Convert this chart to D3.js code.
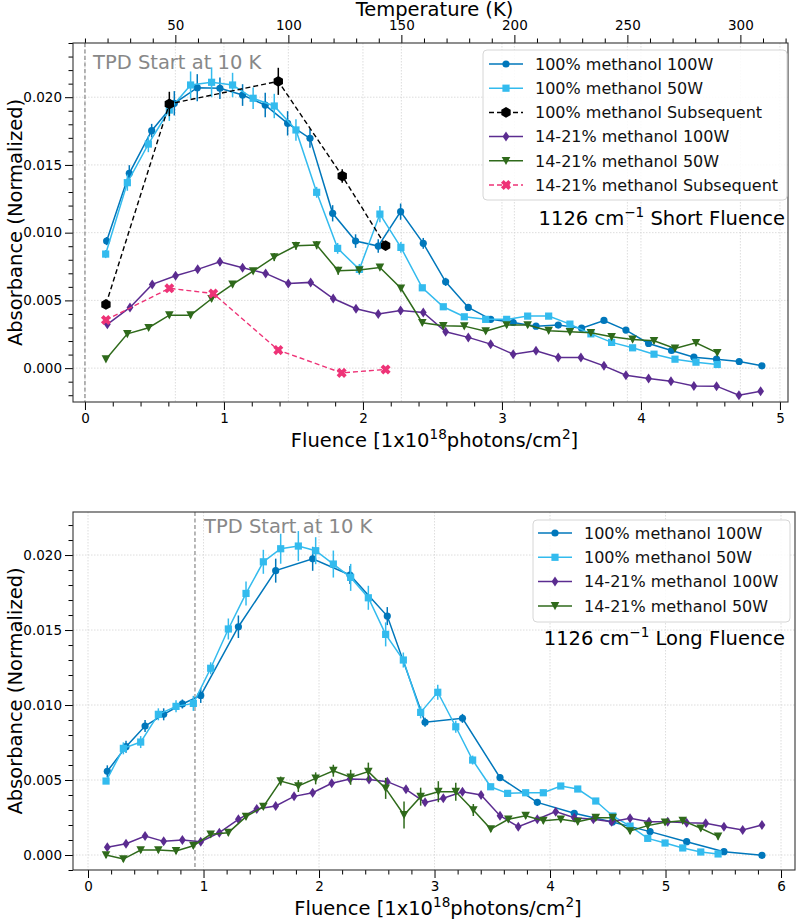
<!DOCTYPE html>
<html><head><meta charset="utf-8">
<script src="https://cdnjs.cloudflare.com/ajax/libs/d3/7.8.5/d3.min.js"></script>
<style>body{margin:0;background:#fff}svg{display:block}</style>
</head><body><svg id="c" width="796" height="920"></svg>
<script>
// ---------------- DATA ----------------
// Short fluence panel
const sx100 = [0.156,0.319,0.480,0.643,0.808,0.971,1.134,1.297,1.458,1.619,1.782,1.947,2.110,2.271,2.434,2.595,2.758,2.919,3.081,3.245,3.405,3.573,3.734,3.892,4.055,4.220,4.381,4.544,4.707,4.870];
const sy100 = [0.00938,0.01438,0.01753,0.01955,0.0207,0.02066,0.02016,0.01942,0.01807,0.01696,0.01143,0.00938,0.00901,0.01155,0.00921,0.00637,0.00448,0.0036,0.00337,0.0031,0.00318,0.00295,0.00352,0.00281,0.00182,0.0013,0.00081,0.00066,0.00049,0.00017];
const se100 = [0.0003,0.0006,0.0005,0.0009,0.001,0.0008,0.0008,0.0009,0.0009,0.0007,0.0006,0.0005,0.0005,0.0006,0.0004,0.0003,0.0002,0.0002,0.0002,0.0002,0.0002,0.0002,0.0002,0.0002,0.0002,0.0002,0.0002,0.0002,0.0002,0.0002];
const sx50 = [0.149,0.305,0.456,0.607,0.760,0.911,1.062,1.210,1.362,1.518,1.667,1.818,1.974,2.122,2.273,2.427,2.578,2.729,2.883,3.034,3.185,3.336,3.489,3.640,3.789,3.940,4.094,4.245,4.396,4.549];
const sy50 = [0.00842,0.01369,0.01654,0.01905,0.0209,0.0211,0.0209,0.01992,0.01935,0.01758,0.01298,0.00884,0.00729,0.01137,0.00891,0.00593,0.00453,0.00379,0.0036,0.0036,0.00384,0.00384,0.00325,0.00253,0.0019,0.0015,0.00103,0.00066,0.00044,0.00027];
const se50 = [0.0003,0.0006,0.0006,0.0008,0.001,0.0011,0.0009,0.0008,0.0009,0.0008,0.0004,0.0004,0.0004,0.0006,0.0004,0.0002,0.0002,0.0002,0.0002,0.0002,0.0002,0.0002,0.0002,0.0002,0.0002,0.0002,0.0002,0.0002,0.0002,0.0002];
const sxSub = [0.151,0.607,1.391,1.851,2.163];
const sySub = [0.0047,0.0195,0.02117,0.01418,0.00904];
const seSub = [0.0002,0.0009,0.001,0.0005,0.0003];
const sxM100 = [0.161,0.324,0.484,0.652,0.811,0.971,1.134,1.300,1.463,1.624,1.786,1.950,2.110,2.271,2.434,2.595,2.758,2.919,3.081,3.245,3.405,3.568,3.734,3.892,4.055,4.216,4.381,4.544,4.705,4.861];
const syM100 = [0.00323,0.00448,0.00618,0.00682,0.00729,0.00785,0.00741,0.00699,0.00625,0.00633,0.00514,0.00438,0.00399,0.00426,0.00411,0.00268,0.00227,0.00177,0.00103,0.00128,0.00079,0.00079,0.00017,-0.00052,-0.00076,-0.00096,-0.00131,-0.00133,-0.002,-0.0017];
const seM100 = [0.0002,0.0002,0.0002,0.0002,0.0002,0.0003,0.0002,0.0002,0.0002,0.0002,0.0002,0.0002,0.0002,0.0002,0.0002,0.0002,0.0002,0.0002,0.0002,0.0002,0.0002,0.0002,0.0002,0.0002,0.0002,0.0002,0.0002,0.0002,0.0002,0.0002];
const sxM50 = [0.151,0.305,0.458,0.607,0.760,0.911,1.062,1.210,1.362,1.518,1.667,1.822,1.974,2.122,2.273,2.427,2.578,2.729,2.883,3.034,3.185,3.336,3.489,3.640,3.789,3.940,4.094,4.245,4.396,4.549];
const syM50 = [0.00066,0.00253,0.00298,0.00391,0.00391,0.00512,0.00618,0.00716,0.0082,0.00903,0.00908,0.00719,0.00724,0.00743,0.00589,0.00335,0.00312,0.0031,0.00273,0.00318,0.00318,0.00276,0.00268,0.00261,0.00231,0.00212,0.00202,0.00145,0.00187,0.00113];
const seM50 = [0.0001,0.0002,0.0002,0.0002,0.0002,0.0002,0.0002,0.0002,0.0003,0.0003,0.0003,0.0003,0.0002,0.0002,0.0002,0.0002,0.0002,0.0002,0.0002,0.0002,0.0002,0.0002,0.0002,0.0002,0.0002,0.0002,0.0002,0.0002,0.0002,0.0002];
const sxMSub = [0.151,0.607,0.923,1.391,1.847,2.163];
const syMSub = [0.00355,0.00589,0.00551,0.00133,-0.00035,-0.0001];
const seMSub = [0.0002,0.0002,0.0002,0.0002,0.0002,0.0002];

// Long fluence panel
const lx100 = [0.167,0.329,0.494,0.655,0.817,0.976,1.302,1.625,1.945,2.268,2.591,2.918,3.242,3.567,3.890,4.210,4.540,4.866,5.183,5.506,5.835];
const ly100 = [0.00558,0.00722,0.0086,0.00938,0.01007,0.01064,0.01522,0.01896,0.01975,0.01867,0.01593,0.00885,0.00911,0.00516,0.00351,0.00278,0.0022,0.00156,0.00089,0.00022,-0.00002];
const le100 = [0.0004,0.0004,0.0004,0.0004,0.0003,0.0005,0.00075,0.0008,0.0008,0.0006,0.0006,0.0003,0.0003,0.0002,0.0002,0.0002,0.0002,0.0002,0.0002,0.0002,0.0002];
const lx50 = [0.156,0.306,0.456,0.609,0.762,0.912,1.062,1.215,1.368,1.518,1.668,1.821,1.971,2.124,2.274,2.427,2.577,2.730,2.880,3.028,3.184,3.330,3.486,3.633,3.789,3.942,4.093,4.240,4.396,4.543,4.693,4.846,4.996,5.149,5.305,5.455];
const ly50 = [0.00493,0.00711,0.00753,0.00938,0.00991,0.01011,0.01245,0.01507,0.01744,0.01955,0.02042,0.0206,0.02029,0.0194,0.01851,0.01715,0.01471,0.013,0.00951,0.01085,0.00855,0.00633,0.00455,0.00411,0.00415,0.00415,0.0046,0.0044,0.0036,0.0026,0.00193,0.00111,0.0008,0.00047,0.0002,0.00007];
const le50 = [0.0002,0.0004,0.0004,0.0004,0.0004,0.0005,0.0004,0.0007,0.0008,0.0008,0.001,0.001,0.0009,0.0009,0.0009,0.0008,0.0008,0.0005,0.0004,0.0005,0.0004,0.0003,0.0002,0.0002,0.0002,0.0002,0.0002,0.0002,0.0002,0.0002,0.0002,0.0002,0.0002,0.0002,0.0002,0.0002];
const lxM100 = [0.167,0.329,0.494,0.655,0.817,0.976,1.137,1.302,1.461,1.625,1.784,1.945,2.110,2.268,2.433,2.591,2.753,2.918,3.076,3.242,3.403,3.567,3.725,3.890,4.049,4.210,4.375,4.534,4.693,4.857,5.019,5.183,5.348,5.506,5.668,5.835];
const lyM100 = [0.00051,0.00075,0.00127,0.00091,0.001,0.00089,0.00149,0.00238,0.00307,0.00327,0.00391,0.00415,0.00478,0.00507,0.00504,0.00489,0.00438,0.00351,0.00378,0.00422,0.004,0.00262,0.00189,0.00238,0.00289,0.00249,0.00238,0.00222,0.00245,0.00222,0.00222,0.00215,0.00211,0.00189,0.00167,0.002];
const leM100 = lxM100.map(() => 0.00015);
const lxM50 = [0.156,0.306,0.456,0.609,0.762,0.912,1.062,1.215,1.368,1.518,1.668,1.821,1.971,2.124,2.274,2.427,2.577,2.736,2.880,3.033,3.184,3.336,3.487,3.639,3.789,3.942,4.093,4.240,4.396,4.543,4.693,4.846,4.996,5.149,5.305,5.455];
const lyM50 = [0.0,-0.00027,0.00033,0.00033,0.00027,0.00062,0.00138,0.00149,0.00256,0.00322,0.00493,0.0046,0.00511,0.00562,0.00518,0.00556,0.00444,0.00267,0.00389,0.00422,0.00422,0.003,0.00173,0.00238,0.00262,0.00229,0.00238,0.00222,0.00249,0.00249,0.0016,0.00196,0.00218,0.00229,0.00178,0.00124];
const leM50 = [0.0002,0.0002,0.0002,0.0002,0.0002,0.0002,0.0002,0.0002,0.0002,0.0002,0.0003,0.0004,0.0004,0.0004,0.0005,0.0006,0.0007,0.0009,0.0006,0.0007,0.0006,0.0004,0.0002,0.0002,0.0002,0.0002,0.0002,0.0002,0.0002,0.0002,0.0002,0.0002,0.0002,0.0002,0.0002,0.0002];

const seriesNames = ["100% methanol 100W","100% methanol 50W","100% methanol Subsequent","14-21% methanol 100W","14-21% methanol 50W","14-21% methanol Subsequent"];
const xTicks = [0,1,2,3,4,5,6];
const yTicks = [0.000,0.005,0.010,0.015,0.020];
const tempTicks = [50,100,150,200,250,300];
const tpdFluenceShort = 0, tpdFluenceLong = 0.926;
const tempAtZero = 10, tempPerFluence = 61.5;

// ---------------- STYLE ----------------
const FONT = "'DejaVu Sans', 'Liberation Sans', sans-serif";
const C = {b100:"#0077BB", b50:"#33BBEE", sub:"#000000", p100:"#5B2C90", g50:"#2F6A1B", pink:"#EE3377"};

const svg = d3.select("#c");

function markerPath(t){
  if(t==="o"){ return d3.symbol(d3.symbolCircle, Math.PI*3.6*3.6)(); }
  if(t==="s"){ const a=3.6; return `M${-a},${-a}H${a}V${a}H${-a}Z`; }
  if(t==="h"){ const r=5.4; return d3.range(6).map((k,i)=>{const an=(-90+60*k)*Math.PI/180;return (i?"L":"M")+(r*Math.cos(an)).toFixed(2)+","+(r*Math.sin(an)).toFixed(2);}).join("")+"Z"; }
  if(t==="d"){ const w=3.4,h=5; return `M0,${-h}L${w},0L0,${h}L${-w},0Z`; }
  if(t==="v"){ const r=4.3; return `M0,${r}L${r},${-r*0.9}L${-r},${-r*0.9}Z`; }
  if(t==="X"){
    const a=5.2,w=1.9; const pts=[[w,w],[w,a],[-w,a],[-w,w],[-a,w],[-a,-w],[-w,-w],[-w,-a],[w,-a],[w,-w],[a,-w],[a,w]];
    const c=Math.SQRT1_2; return pts.map((p,i)=>(i?"L":"M")+((p[0]-p[1])*c).toFixed(2)+","+((p[0]+p[1])*c).toFixed(2)).join("")+"Z";
  }
}

function panel(cfg){
  const g = svg.append("g");
  const x = d3.scaleLinear().domain(cfg.xDomain).range([cfg.left,cfg.right]);
  const y = d3.scaleLinear().domain(cfg.yDomain).range([cfg.bottom,cfg.top]);
  const inX = v => v>=cfg.xDomain[0]-1e-9 && v<=cfg.xDomain[1]+1e-9;
  const inY = v => v>=cfg.yDomain[0]-1e-9 && v<=cfg.yDomain[1]+1e-9;
  const xMaj = xTicks.filter(inX), yMaj = yTicks.filter(inY);
  const xMin = d3.range(-10,40).map(i=>+(i*0.2).toFixed(2)).filter(v=>inX(v) && !xMaj.includes(v));
  const yMin = d3.range(-10,40).map(i=>+(i*0.001).toFixed(3)).filter(v=>inY(v) && !yMaj.some(m=>Math.abs(m-v)<1e-9));
  const grid = g.append("g").attr("stroke","#d4d4d4").attr("stroke-width",0.8).attr("stroke-dasharray","1.5,1.5");
  xMaj.forEach(v=>grid.append("line").attr("x1",x(v)).attr("x2",x(v)).attr("y1",cfg.top).attr("y2",cfg.bottom));
  yMaj.forEach(v=>grid.append("line").attr("y1",y(v)).attr("y2",y(v)).attr("x1",cfg.left).attr("x2",cfg.right));
  let tScale=null;
  if(cfg.temp){
    tScale = d3.scaleLinear().domain(cfg.xDomain.map(f=>tempAtZero+tempPerFluence*f)).range([cfg.left,cfg.right]);
    tempTicks.forEach(v=>grid.append("line").attr("x1",tScale(v)).attr("x2",tScale(v)).attr("y1",cfg.top).attr("y2",cfg.bottom));
  }
  // TPD line
  g.append("line").attr("x1",x(cfg.tpd)).attr("x2",x(cfg.tpd)).attr("y1",cfg.top).attr("y2",cfg.bottom)
    .attr("stroke","#888").attr("stroke-width",1.2).attr("stroke-dasharray","4,2.5");
  g.append("text").attr("x",cfg.tpdText[0]).attr("y",cfg.tpdText[1]).attr("font-family",FONT).attr("font-size",19.5)
    .attr("fill","#888").text("TPD Start at 10 K");

  // axes
  const styleAx = sel => { sel.select(".domain").remove(); sel.attr("font-family",FONT).attr("font-size",13.5);
    sel.selectAll("line").attr("stroke","#000"); sel.selectAll("text").attr("fill","#000"); };
  g.append("g").attr("transform",`translate(0,${cfg.bottom})`)
    .call(d3.axisBottom(x).tickValues(xMaj).tickSize(8).tickPadding(3).tickFormat(d3.format("d"))).call(styleAx);
  g.append("g").attr("transform",`translate(0,${cfg.bottom})`)
    .call(d3.axisBottom(x).tickValues(xMin).tickSize(4.5).tickFormat("")).call(styleAx);
  g.append("g").attr("transform",`translate(${cfg.left},0)`)
    .call(d3.axisLeft(y).tickValues(yMaj).tickSize(8).tickPadding(3).tickFormat(d3.format(".3f"))).call(styleAx);
  g.append("g").attr("transform",`translate(${cfg.left},0)`)
    .call(d3.axisLeft(y).tickValues(yMin).tickSize(4.5).tickFormat("")).call(styleAx);
  if(tScale){
    const tMin = d3.range(10,330,10).filter(v=>!tempTicks.includes(v) && v>=tScale.domain()[0] && v<=tScale.domain()[1]);
    g.append("g").attr("transform",`translate(0,${cfg.top})`)
      .call(d3.axisTop(tScale).tickValues(tempTicks).tickSize(8).tickPadding(5).tickFormat(d3.format("d"))).call(styleAx);
    g.append("g").attr("transform",`translate(0,${cfg.top})`)
      .call(d3.axisTop(tScale).tickValues(tMin).tickSize(4.5).tickFormat("")).call(styleAx);
    g.append("text").attr("x",(cfg.left+cfg.right)/2+4).attr("y",16).attr("text-anchor","middle")
      .attr("font-family",FONT).attr("font-size",19.5).text("Temperature (K)");
  }
  g.append("rect").attr("x",cfg.left).attr("y",cfg.top).attr("width",cfg.right-cfg.left).attr("height",cfg.bottom-cfg.top)
    .attr("fill","none").attr("stroke","#333").attr("stroke-width",1.1);

  // labels
  const xl = g.append("text").attr("x",(cfg.left+cfg.right)/2+4).attr("y",cfg.bottom+45).attr("text-anchor","middle")
    .attr("font-family",FONT).attr("font-size",19.5);
  xl.append("tspan").text("Fluence [1x10");
  xl.append("tspan").attr("dy",-8).attr("font-size",13.6).text("18");
  xl.append("tspan").attr("dy",8).text("photons/cm");
  xl.append("tspan").attr("dy",-8).attr("font-size",13.6).text("2");
  xl.append("tspan").attr("dy",8).text("]");
  g.append("text").attr("transform",`translate(22,${(cfg.top+cfg.bottom)/2}) rotate(-90)`).attr("text-anchor","middle")
    .attr("font-family",FONT).attr("font-size",19.5).text("Absorbance (Normalized)");
  const an = g.append("text").attr("x",785).attr("y",cfg.annY).attr("text-anchor","end").attr("font-family",FONT).attr("font-size",19.5);
  an.append("tspan").text("1126 cm");
  an.append("tspan").attr("dy",-8).attr("font-size",13.6).text("\u22121");
  an.append("tspan").attr("dy",8).text(cfg.annText);

  // clip
  const cid = "clip"+cfg.id;
  svg.append("clipPath").attr("id",cid).append("rect").attr("x",cfg.left).attr("y",cfg.top).attr("width",cfg.right-cfg.left).attr("height",cfg.bottom-cfg.top);
  const plot = g.append("g").attr("clip-path",`url(#${cid})`);
  cfg.series.forEach(s=>{
    const pts = s.x.map((xv,i)=>({x:xv,y:s.y[i],e:s.e[i]}));
    const sg = plot.append("g");
    sg.append("path").attr("d",d3.line().x(d=>x(d.x)).y(d=>y(d.y))(pts)).attr("fill","none")
      .attr("stroke",s.color).attr("stroke-width",s.dash?1.4:1.5).attr("stroke-dasharray",s.dash||null);
    sg.selectAll(".eb").data(pts).join("line").attr("x1",d=>x(d.x)).attr("x2",d=>x(d.x))
      .attr("y1",d=>y(d.y-d.e)).attr("y2",d=>y(d.y+d.e)).attr("stroke",s.color).attr("stroke-width",1.5);
    sg.selectAll(".mk").data(pts).join("path").attr("d",markerPath(s.marker))
      .attr("transform",d=>`translate(${x(d.x)},${y(d.y)})`).attr("fill",s.color);
  });

  // legend
  const L = cfg.legend;
  const lg = g.append("g");
  lg.append("rect").attr("x",L.x).attr("y",L.y).attr("width",L.w).attr("height",L.h).attr("rx",4)
    .attr("fill","#fff").attr("fill-opacity",0.85).attr("stroke","#d6d6d6").attr("stroke-width",1);
  cfg.series.forEach((s,i)=>{
    const cy = L.y0 + i*L.dy;
    lg.append("line").attr("x1",L.lx0).attr("x2",L.lx1).attr("y1",cy).attr("y2",cy).attr("stroke",s.color)
      .attr("stroke-width",1.5).attr("stroke-dasharray",s.dash||null);
    lg.append("path").attr("d",markerPath(s.marker)).attr("transform",`translate(${(L.lx0+L.lx1)/2},${cy})`).attr("fill",s.color);
    lg.append("text").attr("x",L.tx).attr("y",cy).attr("dy","0.36em").attr("font-family",FONT).attr("font-size",16).attr("fill","#111").text(s.name);
  });
}

panel({
  id:"short", left:73, right:788, top:43, bottom:402,
  xDomain:[-0.086,5.058], yDomain:[-0.0025,0.0240], temp:true,
  tpd:tpdFluenceShort, tpdText:[93,69], annY:225, annText:" Short Fluence",
  legend:{x:483,y:50,w:304,h:150,y0:64,dy:24.2,lx0:489,lx1:523,tx:535},
  series:[
    {name:seriesNames[0],x:sx100,y:sy100,e:se100,color:C.b100,marker:"o"},
    {name:seriesNames[1],x:sx50,y:sy50,e:se50,color:C.b50,marker:"s"},
    {name:seriesNames[2],x:sxSub,y:sySub,e:seSub,color:C.sub,marker:"h",dash:"5,3"},
    {name:seriesNames[3],x:sxM100,y:syM100,e:seM100,color:C.p100,marker:"d"},
    {name:seriesNames[4],x:sxM50,y:syM50,e:seM50,color:C.g50,marker:"v"},
    {name:seriesNames[5],x:sxMSub,y:syMSub,e:seMSub,color:C.pink,marker:"X",dash:"5,3"}
  ]
});

panel({
  id:"long", left:73, right:795, top:512, bottom:870,
  xDomain:[-0.13,6.121], yDomain:[-0.001,0.02287], temp:false,
  tpd:tpdFluenceLong, tpdText:[204,533], annY:645, annText:" Long Fluence",
  legend:{x:533,y:520,w:257,h:102,y0:533,dy:24.3,lx0:538,lx1:572,tx:584},
  series:[
    {name:seriesNames[0],x:lx100,y:ly100,e:le100,color:C.b100,marker:"o"},
    {name:seriesNames[1],x:lx50,y:ly50,e:le50,color:C.b50,marker:"s"},
    {name:seriesNames[3],x:lxM100,y:lyM100,e:leM100,color:C.p100,marker:"d"},
    {name:seriesNames[4],x:lxM50,y:lyM50,e:leM50,color:C.g50,marker:"v"}
  ]
});
</script></body></html>
